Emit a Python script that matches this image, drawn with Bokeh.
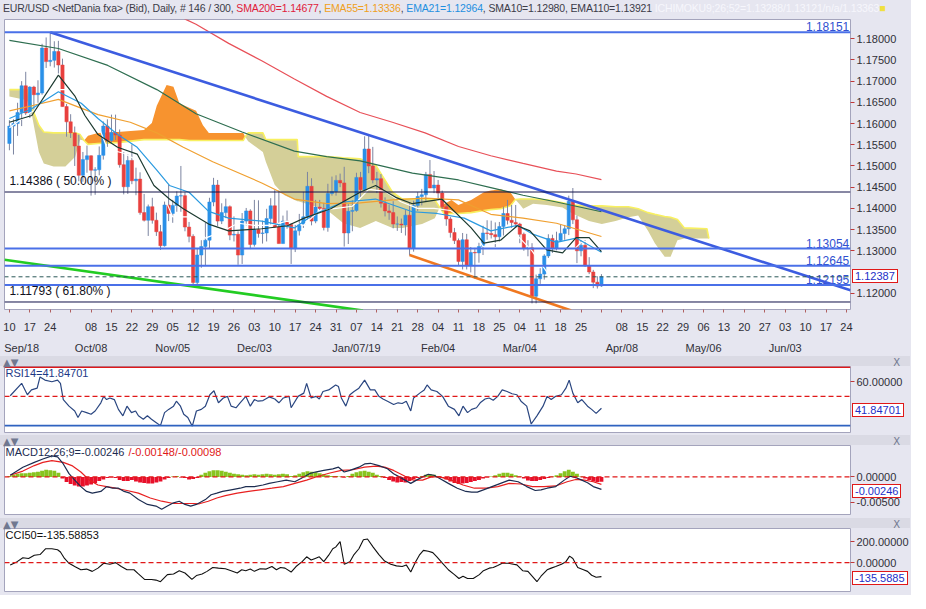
import numpy as np
from bokeh.plotting import figure
from bokeh.models import Range1d, FixedTicker, PrintfTickFormatter, LinearAxis, Label, Div, Span
from bokeh.layouts import column
from bokeh.embed import file_html
from bokeh.resources import INLINE
from bokeh.core.properties import value

# ---------------- data (x = trading-day index, 0 = Mon 10 Sep 2018) ----------------
open_ = [1.1553,1.1594,1.1600,1.1626,1.1689,1.1625,1.1686,1.1668,1.1672,1.1778,
 1.1746,1.1749,1.1770,1.1738,1.1640,1.1604,1.1578,1.1547,1.1478,1.1515,
 1.1524,1.1490,1.1491,1.1525,1.1594,1.1560,1.1579,1.1573,1.1503,1.1451,
 1.1513,1.1465,1.1469,1.1390,1.1372,1.1404,1.1372,1.1345,1.1312,1.1408,
 1.1388,1.1407,1.1429,1.1430,1.1356,1.1334,1.1225,1.1290,1.1310,1.1325,
 1.1415,1.1455,1.1370,1.1390,1.1404,1.1337,1.1339,1.1290,1.1370,1.1394,
 1.1315,1.1350,1.1341,1.1342,1.1376,1.1406,1.1356,1.1317,1.1370,1.1362,
 1.1305,1.1347,1.1362,1.1380,1.1452,1.1370,1.1403,1.1400,1.1355,1.1435,
 1.1440,1.1466,1.1460,1.1342,1.1393,1.1395,1.1473,1.1444,1.1540,1.1500,
 1.1467,1.1470,1.1412,1.1394,1.1390,1.1363,1.1363,1.1361,1.1384,1.1306,
 1.1407,1.1428,1.1432,1.1480,1.1448,1.1455,1.1436,1.1404,1.1375,1.1343,
 1.1324,1.1275,1.1326,1.1265,1.1296,1.1295,1.1310,1.1342,1.1341,1.1338,
 1.1333,1.1357,1.1388,1.1372,1.1367,1.1363,1.1339,1.1306,1.1307,1.1193,
 1.1234,1.1245,1.1288,1.1329,1.1306,1.1324,1.1341,1.1352,1.1417,1.1373,
 1.1300,1.1313,1.1265,1.1250,1.1226,1.1217]
high = [1.1608,1.1610,1.1649,1.1700,1.1722,1.1688,1.1689,1.1702,1.1788,1.1803,
 1.1815,1.1794,1.1795,1.1753,1.1646,1.1622,1.1593,1.1574,1.1533,1.1548,
 1.1525,1.1497,1.1546,1.1605,1.1610,1.1621,1.1621,1.1586,1.1533,1.1527,
 1.1551,1.1496,1.1485,1.1434,1.1409,1.1425,1.1390,1.1361,1.1416,1.1456,
 1.1420,1.1440,1.1500,1.1438,1.1368,1.1339,1.1305,1.1325,1.1366,1.1425,
 1.1472,1.1467,1.1412,1.1423,1.1407,1.1381,1.1346,1.1389,1.1401,1.1398,
 1.1420,1.1419,1.1371,1.1399,1.1424,1.1443,1.1442,1.1383,1.1395,1.1366,
 1.1361,1.1387,1.1439,1.1486,1.1471,1.1420,1.1420,1.1413,1.1458,1.1475,
 1.1478,1.1482,1.1498,1.1410,1.1419,1.1484,1.1486,1.1570,1.1571,1.1545,
 1.1486,1.1481,1.1426,1.1409,1.1417,1.1381,1.1376,1.1396,1.1412,1.1418,
 1.1438,1.1446,1.1486,1.1514,1.1488,1.1467,1.1442,1.1413,1.1380,1.1354,
 1.1329,1.1342,1.1340,1.1309,1.1307,1.1319,1.1359,1.1372,1.1371,1.1367,
 1.1368,1.1404,1.1420,1.1408,1.1408,1.1366,1.1343,1.1325,1.1318,1.1244,
 1.1259,1.1292,1.1339,1.1338,1.1345,1.1362,1.1361,1.1430,1.1448,1.1383,
 1.1325,1.1325,1.1285,1.1255,1.1240,1.1245]
low = [1.1537,1.1527,1.1571,1.1594,1.1620,1.1613,1.1633,1.1649,1.1668,1.1731,
 1.1735,1.1732,1.1718,1.1640,1.1569,1.1566,1.1500,1.1464,1.1463,1.1484,
 1.1430,1.1432,1.1478,1.1515,1.1545,1.1555,1.1561,1.1496,1.1433,1.1434,
 1.1457,1.1431,1.1385,1.1369,1.1335,1.1364,1.1335,1.1302,1.1310,1.1370,
 1.1366,1.1392,1.1392,1.1346,1.1320,1.1216,1.1216,1.1260,1.1265,1.1305,
 1.1405,1.1358,1.1363,1.1377,1.1325,1.1322,1.1267,1.1269,1.1360,1.1304,
 1.1310,1.1331,1.1317,1.1322,1.1362,1.1354,1.1317,1.1317,1.1352,1.1269,
 1.1297,1.1336,1.1354,1.1374,1.1360,1.1365,1.1395,1.1348,1.1345,1.1430,
 1.1430,1.1450,1.1310,1.1316,1.1346,1.1392,1.1426,1.1441,1.1483,1.1459,
 1.1436,1.1402,1.1381,1.1373,1.1353,1.1347,1.1342,1.1336,1.1289,1.1298,
 1.1394,1.1407,1.1417,1.1448,1.1436,1.1422,1.1394,1.1359,1.1331,1.1316,
 1.1264,1.1256,1.1256,1.1249,1.1234,1.1272,1.1290,1.1326,1.1329,1.1309,
 1.1320,1.1336,1.1362,1.1354,1.1354,1.1318,1.1300,1.1287,1.1176,1.1176,
 1.1222,1.1232,1.1283,1.1295,1.1301,1.1322,1.1326,1.1337,1.1363,1.1271,
 1.1287,1.1262,1.1245,1.1212,1.1211,1.1215]
close = [1.1594,1.1600,1.1626,1.1689,1.1625,1.1686,1.1668,1.1672,1.1778,1.1746,
 1.1749,1.1770,1.1738,1.1640,1.1604,1.1578,1.1547,1.1478,1.1515,1.1524,
 1.1490,1.1491,1.1525,1.1594,1.1560,1.1579,1.1573,1.1503,1.1451,1.1513,
 1.1465,1.1469,1.1390,1.1372,1.1404,1.1372,1.1345,1.1312,1.1408,1.1388,
 1.1407,1.1429,1.1430,1.1356,1.1334,1.1225,1.1290,1.1310,1.1325,1.1415,
 1.1455,1.1370,1.1390,1.1404,1.1337,1.1339,1.1290,1.1370,1.1394,1.1315,
 1.1350,1.1341,1.1342,1.1376,1.1406,1.1356,1.1317,1.1370,1.1362,1.1305,
 1.1347,1.1362,1.1380,1.1452,1.1370,1.1403,1.1400,1.1355,1.1435,1.1440,
 1.1466,1.1460,1.1342,1.1393,1.1395,1.1473,1.1444,1.1540,1.1500,1.1467,
 1.1470,1.1412,1.1394,1.1390,1.1363,1.1363,1.1361,1.1384,1.1306,1.1407,
 1.1428,1.1432,1.1480,1.1448,1.1455,1.1436,1.1404,1.1375,1.1343,1.1324,
 1.1275,1.1326,1.1265,1.1296,1.1295,1.1310,1.1342,1.1341,1.1338,1.1333,
 1.1357,1.1388,1.1372,1.1367,1.1363,1.1339,1.1306,1.1307,1.1193,1.1234,
 1.1245,1.1288,1.1329,1.1306,1.1324,1.1341,1.1352,1.1417,1.1373,1.1300,
 1.1313,1.1265,1.1250,1.1226,1.1217,1.12387]

sma200 = [(40.0,1.1862),(43.3,1.1845),(45.7,1.1834),(53.7,1.1789),(61.8,1.1748),(69.8,1.1705),
 (77.7,1.1664),(85.9,1.1626),(93.8,1.1603),(101.8,1.1578),(110.0,1.1546),(117.9,1.1524),
 (125.8,1.1506),(134.0,1.1488),(138.8,1.1481),(145.0,1.14677)]
ema110 = [(0.0,1.1796),(12.0,1.1777),(24.1,1.1737),(36.1,1.1680),(45.7,1.1623),(57.0,1.1580),
 (69.8,1.1535),(77.7,1.1522),(85.9,1.1512),(98.7,1.1483),(110.0,1.1467),(117.9,1.1449),
 (125.8,1.1431),(134.0,1.1415),(145.0,1.13921)]
ema55 = [(0.0,1.1630),(5.5,1.1642),(12.0,1.1657),(21.7,1.1621),(29.6,1.1603),(36.1,1.1578),
 (42.6,1.1544),(49.8,1.1510),(61.8,1.1460),(69.8,1.1422),(77.7,1.1411),(85.9,1.1413),
 (93.8,1.1420),(101.8,1.1424),(110.0,1.1420),(117.9,1.1386),(125.8,1.1377),(134.0,1.1365),
 (145.0,1.13336)]
ema21 = [(0.0,1.1612),(5.5,1.1635),(12.0,1.1675),(17.6,1.1648),(21.7,1.1612),(26.5,1.1574),
 (31.3,1.1544),(36.1,1.1490),(39.2,1.1454),(44.0,1.1438),(48.8,1.1393),(53.7,1.1377),
 (61.8,1.1370),(69.8,1.1354),(74.6,1.1386),(81.8,1.1415),(89.7,1.1422),(98.7,1.1392),
 (104.7,1.1388),(111.4,1.1377),(117.9,1.1347),(124.4,1.1360),(128.0,1.1340),(134.0,1.1320),
 (138.8,1.1330),(145.0,1.12964)]
sma10 = [(0.0,1.1603),(5.5,1.1619),(12.0,1.1714),(16.1,1.1664),(18.5,1.1619),(21.7,1.1574),
 (26.5,1.1544),(31.3,1.1528),(35.4,1.1454),(39.2,1.1422),(42.6,1.1399),(48.8,1.1363),
 (53.7,1.1347),(61.8,1.1352),(68.1,1.1359),(72.2,1.1377),(78.7,1.1399),(85.9,1.1438),
 (89.7,1.1454),(94.6,1.1426),(98.7,1.1411),(105.9,1.1422),(113.1,1.1354),(116.2,1.1318),
 (120.3,1.1325),(124.4,1.1359),(127.5,1.1347),(131.6,1.1302),(135.5,1.1295),(138.8,1.1331),
 (142.0,1.1331),(145.0,1.12980)]
tenkan = [(0,1.1590),(5,1.1625),(8,1.1640),(12,1.1680),(16,1.1680),(20,1.1640),(24,1.1540),
 (28,1.1530),(32,1.1510),(36,1.1470),(40,1.1380),(44,1.1380),(48,1.1330),(52,1.1345),
 (56,1.1365),(60,1.1360),(64,1.1360),(68,1.1370),(72,1.1360),(76,1.1395),(80,1.1400),
 (84,1.1405),(88,1.1445),(92,1.1440),(96,1.1415),(100,1.1400),(104,1.1400),(108,1.1395),
 (112,1.1370),(116,1.1310),(120,1.1320),(124,1.1340),(128,1.1300),(132,1.1245),(136,1.1280),
 (140,1.1320),(145,1.13288)]

# Ichimoku cloud: (x, senkou A, senkou B)
cloud = [(0.0,1.1680,1.1664),(4.33,1.1680,1.1655),(5.53,1.1637,1.1619),(7.22,1.1596,1.1533),
 (8.42,1.1580,1.1506),(10.83,1.1578,1.1499),(13.72,1.1578,1.1499),(16.12,1.1578,1.1522),
 (17.32,1.1574,1.1562),(18.29,1.1560,1.1560),(19.25,1.1551,1.1571),(21.66,1.1553,1.1578),
 (26.47,1.1555,1.1580),(32.96,1.1562,1.1585),(34.89,1.1562,1.1601),(36.09,1.1562,1.1642),
 (38.50,1.1562,1.1691),(40.18,1.1562,1.1687),(41.63,1.1562,1.1648),(44.03,1.1560,1.1637),
 (45.72,1.1560,1.1630),(47.40,1.1560,1.1596),(48.85,1.1560,1.1578),(57.27,1.1560,1.1578),
 (57.75,1.1569,1.1569),(58.47,1.1578,1.1558),(62.08,1.1578,1.1533),(62.80,1.1562,1.1510),
 (64.97,1.1562,1.1456),(67.37,1.1562,1.1431),(70.50,1.1562,1.1417),(70.74,1.1522,1.1417),
 (77.72,1.1522,1.1397),(81.81,1.1519,1.1365),(85.90,1.1517,1.1354),(89.75,1.1501,1.1370),
 (93.84,1.1438,1.1354),(96.25,1.1422,1.1354),(101.06,1.1422,1.1363),(104.19,1.1420,1.1377),
 (105.39,1.1402,1.1402),(106.59,1.1386,1.1411),(108.28,1.1388,1.1420),(109.96,1.1388,1.1408),
 (113.09,1.1390,1.1420),(116.22,1.1395,1.1438),(117.90,1.1397,1.1442),(120.31,1.1399,1.1445),
 (122.71,1.1406,1.1438),(123.92,1.1421,1.1421),(125.12,1.1422,1.1408),(125.84,1.1422,1.1399),
 (128.25,1.1422,1.1411),(131.62,1.1420,1.1408),(135.47,1.1413,1.1402),(137.87,1.1408,1.1388),
 (141.96,1.1406,1.1370),(145.09,1.1406,1.1363),(148.46,1.1404,1.1370),(151.59,1.1404,1.1379),
 (154.00,1.1399,1.1383),(156.40,1.1390,1.1347),(158.08,1.1386,1.1318),(160.49,1.1381,1.1286),
 (161.93,1.1379,1.1286),(163.62,1.1374,1.1325),(165.30,1.1354,1.1329),(170.84,1.1352,1.1329),
 (171.32,1.1329,1.1329)]

blue_levels = [1.18151, 1.13054, 1.12645, 1.12195]
fib_levels = [1.14386, 1.11793]
fib_pcts = ["50.00%", "61.80%"]
last_price = 1.12387
trend_down = [(10.0, 1.1815), (206.0, 1.1207)]
trend_green = [(-1.2, 1.1279), (86.6, 1.1159)]
trend_orange = [(98.0, 1.1290), (137.6, 1.1159)]

price_ticks = [1.12, 1.13, 1.135, 1.14, 1.145, 1.15, 1.155, 1.16, 1.165, 1.17, 1.175, 1.18]
day_labels = ["10","17","24","","08","15","22","29","05","12","19","26","03","10","17","24",
              "31","07","14","21","28","04","11","18","25","04","11","18","25","","08","15",
              "22","29","06","13","20","27","03","10","17","24"]
month_labels = ["Sep/18","Oct/08","Nov/05","Dec/03","Jan/07/19","Feb/04","Mar/04","Apr/08","May/06","Jun/03"]
month_idx = [3, 20, 40, 60, 85, 105, 125, 150, 170, 190]

rsi = [(0.2,50.4),(3.0,58.9),(4.4,51.1),(5.4,54.4),(6.8,55.6),(7.5,63.3),(8.7,61.1),(10.4,60.0),
 (11.8,61.1),(12.5,58.9),(13.2,47.8),(14.6,43.3),(16.0,40.0),(16.8,35.6),(17.7,40.0),(18.9,38.9),
 (20.0,37.8),(21.0,40.0),(22.4,45.6),(23.1,50.0),(23.8,47.8),(24.6,48.9),(25.7,47.8),(26.7,41.1),
 (27.8,36.7),(28.8,43.3),(29.9,38.9),(30.9,40.0),(31.6,36.7),(32.8,34.4),(33.8,36.7),(34.8,34.4),
 (35.9,32.2),(37.0,30.0),(38.0,38.9),(39.0,41.1),(40.2,43.3),(40.9,46.7),(41.9,43.3),(42.7,37.8),
 (43.7,35.6),(44.8,29.6),(45.8,40.0),(47.0,41.1),(48.0,43.3),(49.1,51.1),(50.1,53.8),(51.2,45.6),
 (52.4,48.9),(53.4,50.0),(54.3,43.3),(55.5,42.2),(56.5,45.6),(57.9,50.0),(59.0,43.3),(60.0,47.8),
 (60.9,46.7),(62.1,47.1),(63.6,49.6),(65.0,48.2),(66.0,45.6),(67.1,48.9),(68.5,50.0),(69.0,42.2),
 (70.7,50.0),(72.1,52.2),(72.8,58.9),(73.9,48.9),(75.1,50.0),(75.9,48.2),(76.8,53.3),(78.2,54.4),
 (79.9,57.8),(80.6,56.7),(81.3,48.9),(82.4,43.3),(83.4,51.1),(84.4,53.3),(85.6,55.6),(87.0,61.1),
 (88.4,54.4),(89.5,54.4),(90.5,50.0),(91.5,48.2),(92.6,46.7),(94.1,44.4),(95.2,45.6),(96.2,45.1),
 (97.2,46.7),(98.3,40.0),(99.0,48.9),(100.5,52.2),(101.6,54.4),(102.3,57.8),(103.3,54.4),(104.7,53.3),
 (106.1,50.0),(107.5,43.3),(109.0,41.1),(110.1,36.7),(111.1,43.3),(112.2,38.9),(113.2,41.1),(114.4,42.2),
 (115.3,45.6),(116.5,48.2),(117.5,48.9),(118.5,47.3),(119.6,50.0),(120.7,54.4),(121.9,53.3),(123.1,51.8),
 (124.3,51.1),(125.3,46.7),(126.7,43.3),(127.8,31.1),(129.2,36.7),(130.7,43.3),(131.7,50.0),(132.7,47.8),
 (133.8,50.0),(135.2,51.1),(136.3,55.6),(137.1,61.1),(138.0,52.2),(139.2,45.6),(140.2,47.8),(141.6,43.3),
 (142.6,41.1),(143.7,38.4),(145.0,41.847)]
rsi_levels = [70, 50, 30]

macd = [(0.2,0.00032),(3.3,0.00192),(6.1,0.00288),(8.2,0.00353),(10.4,0.00417),(11.8,0.00397),
 (13.2,0.00256),(14.6,0.00064),(16.0,-0.00064),(17.5,-0.00192),(18.9,-0.00288),(20.3,-0.00321),
 (22.4,-0.00288),(23.8,-0.00192),(25.3,-0.00224),(26.7,-0.00224),(28.1,-0.00288),(29.5,-0.00321),
 (31.6,-0.00449),(33.8,-0.00545),(35.9,-0.00577),(37.3,-0.00641),(38.7,-0.00577),(40.2,-0.00513),
 (41.6,-0.00481),(43.0,-0.00545),(44.4,-0.00577),(45.8,-0.00545),(48.0,-0.00449),(49.4,-0.00353),
 (50.8,-0.00321),(52.2,-0.00288),(54.3,-0.00256),(56.5,-0.00224),(57.9,-0.00192),(60.0,-0.00192),
 (62.1,-0.00160),(63.6,-0.00128),(65.7,-0.00096),(67.8,-0.00064),(69.9,-0.00096),(71.4,-0.00032),
 (73.5,0.00064),(74.9,0.00096),(77.0,0.00128),(79.2,0.00160),(80.6,0.00192),(82.0,0.00096),
 (83.4,0.00128),(85.6,0.00192),(87.0,0.00256),(88.4,0.00269),(90.5,0.00224),(92.6,0.00160),
 (94.1,0.00064),(95.5,0.0),(96.9,-0.00064),(98.3,-0.00128),(99.7,-0.00064),(101.2,0.0),
 (102.6,0.00051),(104.0,0.00032),(105.4,-0.00032),(107.5,-0.00128),(109.7,-0.00224),(111.8,-0.00288),
 (113.2,-0.00301),(114.6,-0.00301),(116.1,-0.00256),(118.2,-0.00192),(120.3,-0.00128),(122.4,-0.00064),
 (124.6,-0.00096),(126.7,-0.00192),(128.8,-0.00269),(130.2,-0.00256),(131.7,-0.00224),(133.8,-0.00192),
 (135.9,-0.00064),(137.3,0.00013),(138.7,-0.00013),(140.2,-0.00064),(141.6,-0.00115),(143.0,-0.00192),
 (145.0,-0.00246)]
signal = [(0.2,0.00032),(3.3,0.00115),(6.1,0.00224),(8.2,0.00288),(10.4,0.00321),(13.2,0.00288),
 (15.3,0.00224),(17.5,0.00096),(19.6,-0.00064),(21.7,-0.00160),(23.8,-0.00192),(26.0,-0.00224),
 (28.8,-0.00269),(31.6,-0.00321),(34.5,-0.00417),(37.3,-0.00481),(40.2,-0.00526),(43.0,-0.00526),
 (45.1,-0.00526),(46.5,-0.00532),(48.7,-0.00481),(50.8,-0.00417),(52.9,-0.00372),(55.8,-0.00321),
 (58.6,-0.00288),(61.4,-0.00256),(64.3,-0.00224),(67.1,-0.00192),(69.9,-0.00128),(72.8,-0.00064),
 (75.6,0.00013),(78.5,0.00077),(81.3,0.00128),(84.1,0.00141),(87.0,0.00192),(89.8,0.00212),
 (91.9,0.00192),(94.1,0.00128),(96.9,0.00013),(99.0,-0.00064),(101.2,-0.00064),(103.3,0.0),
 (105.4,0.0),(108.2,-0.00064),(111.1,-0.00160),(113.9,-0.00224),(116.8,-0.00224),(119.6,-0.00192),
 (122.4,-0.00128),(125.3,-0.00141),(128.1,-0.00192),(130.9,-0.00192),(133.8,-0.00179),(136.6,-0.00096),
 (138.7,-0.00051),(140.9,-0.00064),(143.0,-0.00096),(145.0,-0.00148)]
macd_hist = [0.0002,0.0004,0.0006,0.0007,0.0007,0.0008,0.0009,0.0010,0.0012,0.0014,0.0013,0.0012,0.0008,
 -0.0003,-0.0010,-0.0014,-0.0017,-0.0019,-0.0019,-0.0017,-0.0015,-0.0012,-0.0008,-0.0005,-0.0002,
 -0.0001,-0.0002,
 -0.0006,-0.0008,-0.0008,-0.0006,-0.0009,-0.0011,-0.0012,-0.0013,-0.0013,-0.0011,-0.0009,-0.0005,-0.0002,
 0.0001,0.0002,-0.0001,-0.0002,
 -0.0005,-0.0004,-0.0002,
 0.0004,0.0008,0.0011,0.0013,0.0013,0.0012,0.0010,0.0008,0.0006,0.0005,0.0004,
 0.0003,0.0004,0.0005,0.0004,0.0005,0.0006,0.0005,0.0004,0.0005,0.0006,0.0005,0.0002,0.0003,
 0.0006,0.0009,0.0011,0.0010,0.0009,0.0007,0.0005,
 0.0003,0.0002,0.0002,0.0001,-0.0001,0.0002,
 0.0006,0.0009,0.0011,0.0012,0.0010,0.0008,0.0004,
 0.0002,-0.0002,
 -0.0006,-0.0009,-0.0011,-0.0010,-0.0011,-0.0008,-0.0004,-0.0002,
 0.0002,0.0004,0.0005,0.0004,0.0002,-0.0002,-0.0005,
 -0.0009,-0.0012,-0.0014,-0.0013,-0.0012,-0.0010,-0.0008,-0.0006,-0.0003,
 -0.0001,0.0001,0.0003,
 0.0006,0.0008,0.0008,0.0006,0.0003,
 0.0001,-0.0003,
 -0.0007,-0.0008,-0.0008,-0.0006,-0.0004,
 -0.0002,0.0001,0.0003,
 0.0007,0.0011,0.0014,0.0010,0.0006,
 0.0001,-0.0003,
 -0.0006,-0.0009,-0.0010,-0.00098]

cci = [(0.2,-21.9),(1.9,9.4),(3.3,46.9),(4.7,40.6),(6.1,71.9),(7.5,78.1),(8.9,134.4),(10.4,134.4),
 (11.8,125.0),(12.5,103.1),(13.5,40.6),(14.6,-6.3),(16.0,-37.5),(17.5,-68.8),(18.9,-62.5),(20.3,-84.4),
 (21.7,-53.1),(23.1,-6.3),(24.6,-15.6),(26.0,0.0),(27.4,-37.5),(28.8,-68.8),(30.5,-68.8),(31.6,-109.4),
 (33.1,-162.5),(34.8,-162.5),(35.9,-168.8),(37.0,-184.4),(38.7,-115.6),(40.2,-109.4),(41.6,-78.1),
 (43.0,-100.0),(44.7,-162.5),(45.8,-125.0),(47.2,-109.4),(48.4,-84.4),(49.8,-46.9),(51.2,-53.1),
 (52.9,-59.4),(54.3,-78.1),(55.8,-100.0),(56.9,-68.8),(57.9,-78.1),(59.0,-62.5),(60.0,-84.4),
 (61.4,-59.4),(62.9,-62.5),(64.3,-37.5),(65.4,-68.8),(66.4,-46.9),(67.5,-53.1),(69.0,-90.6),
 (70.2,-37.5),(71.7,9.4),(72.8,56.3),(73.9,25.0),(74.9,40.6),(75.9,56.3),(77.0,9.4),(78.2,71.9),
 (79.2,134.4),(79.9,150.0),(81.0,203.1),(82.0,-15.6),(83.4,9.4),(84.4,78.1),(85.6,134.4),(86.7,221.9),
 (87.7,228.1),(89.1,150.0),(90.5,78.1),(91.9,15.6),(93.4,-15.6),(94.8,-31.3),(96.2,-37.5),(97.2,-21.9),
 (98.3,-90.6),(99.5,9.4),(100.4,71.9),(101.4,118.8),(102.6,109.4),(103.7,96.9),(104.7,56.3),
 (106.1,-6.3),(107.5,-68.8),(109.0,-115.6),(110.1,-153.1),(111.1,-131.3),(112.2,-153.1),
 (113.6,-153.1),(115.1,-115.6),(116.1,-78.1),(117.5,-53.1),(118.5,-46.9),(119.6,-28.1),(120.7,-6.3),
 (122.2,-6.3),(123.1,-12.5),(124.3,-21.9),(125.7,-78.1),(127.0,-84.4),(128.4,-146.9),(129.2,-184.4),
 (130.2,-131.3),(131.7,-68.8),(132.7,-53.1),(133.8,-37.5),(135.2,-15.6),(136.3,9.4),(137.2,62.5),
 (138.0,40.6),(139.2,-46.9),(140.6,-68.8),(141.6,-84.4),(142.6,-121.9),(143.7,-140.6),(145.0,-135.59)]

# ---------------- style / layout ----------------
FONT = "Liberation Sans"
BG = "#E6E6F0"
OUTLINE = "#A4A4BC"
TICKRED = "#C03838"
FW = 846          # frame width (px)
LB = 4            # left border (px)
X0, X1 = -1.2, 206.0
xr = Range1d(X0, X1)
HEADER_H, STRIP_H = 18, 10
MAIN_TOP, MAIN_FH = 1, 290
main_y = (1.11616, 1.18453)
rsi_y = (25.3, 70.4)
macd_y = (-0.00744, 0.00621)
cci_y = (-279, 330)
RSI_FH, MACD_FH, CCI_FH = 66, 69, 63


def unzip(pairs):
    return [a for a, _ in pairs], [b for _, b in pairs]


def base_fig(yr, fh, top, bottom, x_axis=None):
    f = figure(x_range=xr, y_range=Range1d(*yr), frame_width=FW, frame_height=fh,
               min_border_left=LB, min_border_right=60, min_border_top=top,
               min_border_bottom=bottom, y_axis_location="right", x_axis_location=x_axis,
               toolbar_location=None, output_backend="svg",
               background_fill_color="white", border_fill_color=BG,
               outline_line_color=OUTLINE, outline_line_width=1)
    f.grid.visible = False
    return f


def style_y(f, ticks, fmt="%.5f"):
    ax = f.yaxis[0]
    ax.ticker = FixedTicker(ticks=ticks)
    ax.formatter = PrintfTickFormatter(format=fmt)
    ax.axis_line_color = None
    ax.major_tick_line_color = TICKRED
    ax.major_tick_out = 4
    ax.major_tick_in = 0
    ax.minor_tick_line_color = None
    ax.major_label_text_font = FONT
    ax.major_label_text_font_size = "11px"
    ax.major_label_text_color = "#303038"
    ax.major_label_standoff = 2


def box_html(v, yr, fh, offset_top, txt):
    # current-value box on the right axis, placed with the panel's own linear mapping
    cy = offset_top + (yr[1] - v) / (yr[1] - yr[0]) * fh
    return ("<span style=\"position:absolute;left:%dpx;top:%.1fpx;border:1px solid #E01818;"
            "background:#fff;color:#1E2FC8;font-family:'Liberation Sans',Arial,sans-serif;"
            "font-size:11px;line-height:12px;padding:0 2px;white-space:nowrap;\">%s</span>"
            % (LB + FW + 2, cy - 7, txt))


def strip(box):
    return Div(text=("<div style=\"position:relative;width:910px;height:10px;"
                     "font-family:'DejaVu Sans',sans-serif;font-size:10px;line-height:10px;color:#707890;\">"
                     "<span style='position:absolute;left:3px;top:0'>&#9650;&#9660;</span>"
                     "<span style='position:absolute;right:10px;top:0'>X</span>" + box + "</div>"),
               width=910, height=STRIP_H, margin=(0, 0, 0, 0),
               styles={"background-color": "#DADAE4", "overflow": "visible",
                       "position": "relative", "z-index": "10"})


# ---------------- header ----------------
header = Div(text=(
    "<div style=\"position:relative;width:910px;height:18px;\">"
    "<div style=\"font-family:'Liberation Sans',Arial,sans-serif;font-size:10.5px;line-height:17px;"
    "letter-spacing:-0.15px;white-space:nowrap;overflow:hidden;width:904px;padding-left:3px;color:#3C3C48;\">"
    "EUR/USD &lt;NetDania fxa&gt; (Bid), Daily, # 146 / 300, "
    "<span style='color:#E0203A'>SMA200=1.14677</span>, "
    "<span style='color:#F0A020'>EMA55=1.13336</span>, "
    "<span style='color:#1E90E0'>EMA21=1.12964</span>, SMA10=1.12980, EMA110=1.13921 "
    "<span style='color:#F6F6FC'>ICHIMOKU9;26;52=1.13288/1.13121/n/a/1.13363</span>"
    "<span style='color:#F0E040'>&#9632;</span></div>"
    + box_html(last_price, main_y, MAIN_FH, HEADER_H + MAIN_TOP, "%.5f" % last_price) + "</div>"),
    width=910, height=HEADER_H, margin=(0, 0, 0, 0),
    styles={"background-color": BG, "overflow": "visible", "position": "relative", "z-index": "10"})

# ---------------- main price chart ----------------
p = base_fig(main_y, MAIN_FH, MAIN_TOP, 40, x_axis="below")
style_y(p, price_ticks)

idx = np.arange(len(close))
cx, ca, cb = [c[0] for c in cloud], np.array([c[1] for c in cloud]), np.array([c[2] for c in cloud])
upper = np.maximum(ca, cb)
p.varea(x=cx, y1=cb, y2=upper, fill_color="#D4CF98", fill_alpha=1.0)
p.varea(x=cx, y1=ca, y2=upper, fill_color="#F7932F", fill_alpha=1.0)
p.line(x=cx, y=list(ca), line_color="#F8F060", line_width=1.6)

o, c = np.array(open_), np.array(close)
up = c >= o
p.segment(x0=idx, y0=low, x1=idx, y1=high, line_color="#7C84A0", line_width=1)
p.vbar(x=idx[up], bottom=o[up], top=c[up], width=0.8, fill_color="#2A90E8", line_color="#2A90E8", line_width=0.5)
p.vbar(x=idx[~up], bottom=c[~up], top=o[~up], width=0.8, fill_color="#E8403E", line_color="#E8403E", line_width=0.5)

for pts, col, w in [(tenkan, "white", 1.2), (ema110, "#2E6E50", 1.2), (ema55, "#F0A030", 1.2),
                    (ema21, "#2A9AE0", 1.2), (sma10, "#1C3A30", 1.2), (sma200, "#E85058", 1.2)]:
    xs, ys = unzip(pts)
    p.line(x=xs, y=ys, line_color=col, line_width=w)

for lv in blue_levels:
    p.add_layout(Span(location=lv, dimension="width", line_color="#4A70E8", line_width=2))
for lv in fib_levels:
    p.add_layout(Span(location=lv, dimension="width", line_color="#101048", line_width=1))
p.add_layout(Span(location=last_price, dimension="width", line_color="#2A5858", line_width=1, line_dash="4 3"))

p.text(x=[X1 - 0.3] * len(blue_levels), y=blue_levels, text=["%.5f" % v for v in blue_levels],
       text_font=value(FONT), text_font_size="12px", text_color="#3050D0",
       text_align="right", text_baseline="bottom", y_offset=-1)
p.text(x=[X0 + 1.2] * len(fib_levels), y=fib_levels,
       text=["%.5f ( %s )" % (v, s) for v, s in zip(fib_levels, fib_pcts)],
       text_font=value(FONT), text_font_size="12px", text_color="#101020",
       text_align="left", text_baseline="bottom", y_offset=-4)

for pts, col in [(trend_green, "#22CC22"), (trend_orange, "#F07820"), (trend_down, "#3C5CE0")]:
    xs, ys = unzip(pts)
    p.line(x=xs, y=ys, line_color=col, line_width=2.6)

ax = p.xaxis[0]
week_idx = [5 * k for k in range(len(day_labels))]
ax.ticker = FixedTicker(ticks=week_idx)
ax.major_label_overrides = {i: s for i, s in zip(week_idx, day_labels)}
ax.axis_line_color = None
ax.major_tick_line_color = "#B06060"
ax.major_tick_out = 3
ax.major_tick_in = 0
ax.minor_tick_line_color = None
ax.major_label_text_font = FONT
ax.major_label_text_font_size = "11px"
ax.major_label_text_color = "#303038"
ax.major_label_standoff = 10

ax2 = LinearAxis(ticker=FixedTicker(ticks=month_idx),
                 major_label_overrides={i: s for i, s in zip(month_idx, month_labels)},
                 axis_line_color=None, major_tick_line_color=None, minor_tick_line_color=None,
                 major_label_text_font=FONT, major_label_text_font_size="11px",
                 major_label_text_color="#303038", major_label_standoff=2)
p.add_layout(ax2, "below")

# ---------------- RSI ----------------
r = base_fig(rsi_y, RSI_FH, 0, 3)
style_y(r, [60])
r.add_layout(Span(location=rsi_levels[0], dimension="width", line_color="#E01818", line_width=1.6))
r.add_layout(Span(location=rsi_levels[1], dimension="width", line_color="#E01818", line_width=1.4, line_dash="5 3"))
r.add_layout(Span(location=rsi_levels[2], dimension="width", line_color="#2F62C0", line_width=1.6))
xs, ys = unzip(rsi)
r.line(x=xs, y=ys, line_color="#2A4680", line_width=1.2)
r.add_layout(Label(x=X0, y=rsi_y[1], x_offset=1, text="RSI14=41.84701", text_baseline="top",
                   text_font=FONT, text_font_size="11px", text_color="#1E3A86"))
rsi_box = box_html(ys[-1], rsi_y, RSI_FH, STRIP_H, "41.84701")

# ---------------- MACD ----------------
m = base_fig(macd_y, MACD_FH, 0, 4)
style_y(m, [0.0, -0.005])
m.add_layout(Span(location=0, dimension="width", line_color="#E01818", line_width=1.2, line_dash="5 3"))
hcol = ["#88C420" if v >= 0 else "#E8102A" for v in macd_hist]
m.vbar(x=idx, bottom=0, top=macd_hist, width=0.95, fill_color=hcol, line_color=None)
xs, ys = unzip(signal)
m.line(x=xs, y=ys, line_color="#E82020", line_width=1.2)
xs, ys = unzip(macd)
m.line(x=xs, y=ys, line_color="#1C2C50", line_width=1.2)
m.add_layout(Label(x=X0, y=macd_y[1], x_offset=1, text="MACD12;26;9=-0.00246", text_baseline="top",
                   text_font=FONT, text_font_size="11px", text_color="#1C2C50"))
m.add_layout(Label(x=X0, y=macd_y[1], x_offset=124, text="/-0.00148/-0.00098", text_baseline="top",
                   text_font=FONT, text_font_size="11px", text_color="#E01818"))
macd_box = box_html(ys[-1], macd_y, MACD_FH, STRIP_H, "-0.00246")

# ---------------- CCI ----------------
cf = base_fig(cci_y, CCI_FH, 0, 4)
style_y(cf, [0, 200])
cf.add_layout(Span(location=0, dimension="width", line_color="#E01818", line_width=1.2, line_dash="5 3"))
xs, ys = unzip(cci)
cf.line(x=xs, y=ys, line_color="#101010", line_width=1.1)
cf.add_layout(Label(x=X0, y=cci_y[1], x_offset=1, text="CCI50=-135.58853", text_baseline="top",
                    text_font=FONT, text_font_size="11px", text_color="#101010"))
cci_box = box_html(ys[-1], cci_y, CCI_FH, STRIP_H, "-135.5885")

layout = column(header, p, strip(rsi_box), r, strip(macd_box), m, strip(cci_box), cf, spacing=0,
                styles={"background-color": BG})
open("out.html", "w").write(file_html(layout, INLINE))
